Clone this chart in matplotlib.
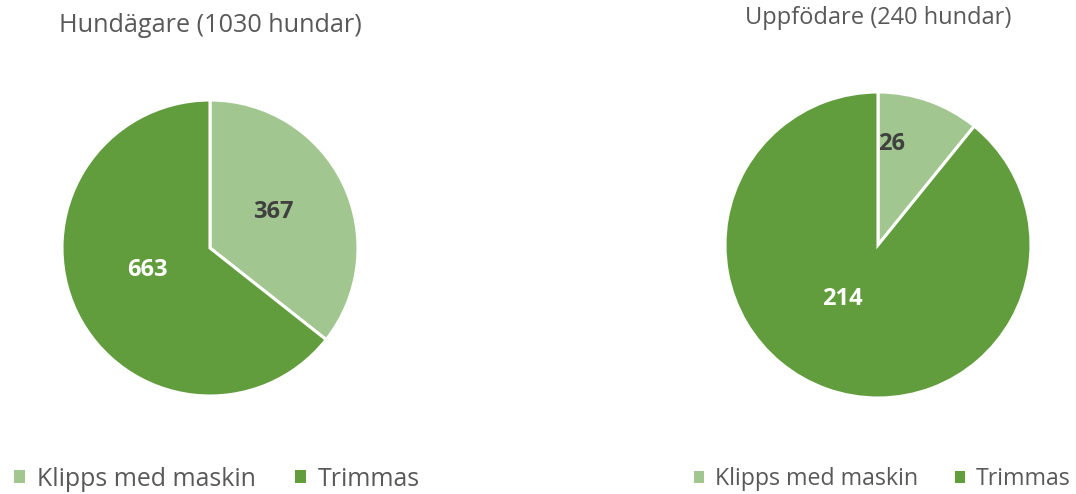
import matplotlib
matplotlib.use("Agg")
import matplotlib.pyplot as plt
from matplotlib.patches import Patch

plt.rcParams['font.family'] = ['Open Sans', 'DejaVu Sans']

categories = ["Klipps med maskin", "Trimmas"]
owners_values = [367, 663]
breeders_values = [26, 214]
titles = ["Hundägare (1030 hundar)", "Uppfödare (240 hundar)"]
colors = ["#A2C68F", "#629D3D"]
label_colors = ["#404040", "white"]

W, H = 1076, 494
fig = plt.figure(figsize=(W / 100, H / 100), dpi=100)

def px_axes(cx, cy, r):
    return fig.add_axes([(cx - r) / W, (H - cy - r) / H, 2 * r / W, 2 * r / H])

def draw(ax, values, label_pos):
    wedges, _ = ax.pie(values, colors=colors, startangle=90, counterclock=False,
                       wedgeprops=dict(edgecolor="white", linewidth=2.2))
    ax.set_aspect("equal")
    ax.set_xlim(-1, 1)
    ax.set_ylim(-1, 1)
    for v, pos, c in zip(values, label_pos, label_colors):
        ax.text(pos[0], pos[1], str(v), ha="center", va="center",
                fontsize=17, fontweight="bold", color=c)
    return wedges

ax1 = px_axes(210, 248, 148)
draw(ax1, owners_values, [(0.43, 0.24), (-0.42, -0.15)])
ax2 = px_axes(878, 245, 153)
draw(ax2, breeders_values, [(0.09, 0.66), (-0.23, -0.35)])

fig.text(210 / W, 1 - 25 / H, titles[0], ha="center", va="center", fontsize=18.2, color="#595959")
fig.text(878 / W, 1 - 18 / H, titles[1], ha="center", va="center", fontsize=17, color="#595959")

handles = [Patch(facecolor=c, edgecolor="none") for c in colors]
for x, fs in ((217, 17.9), (882, 16.7)):
    fig.legend(handles, categories, loc="center", bbox_to_anchor=(x / W, 1 - 479 / H),
               ncol=2, frameon=False, fontsize=fs, labelcolor="#595959",
               handlelength=0.45, handleheight=0.45, handletextpad=0.45, columnspacing=1.6,
               borderpad=0, borderaxespad=0)

fig.savefig("out.png", dpi=100, facecolor="white")
